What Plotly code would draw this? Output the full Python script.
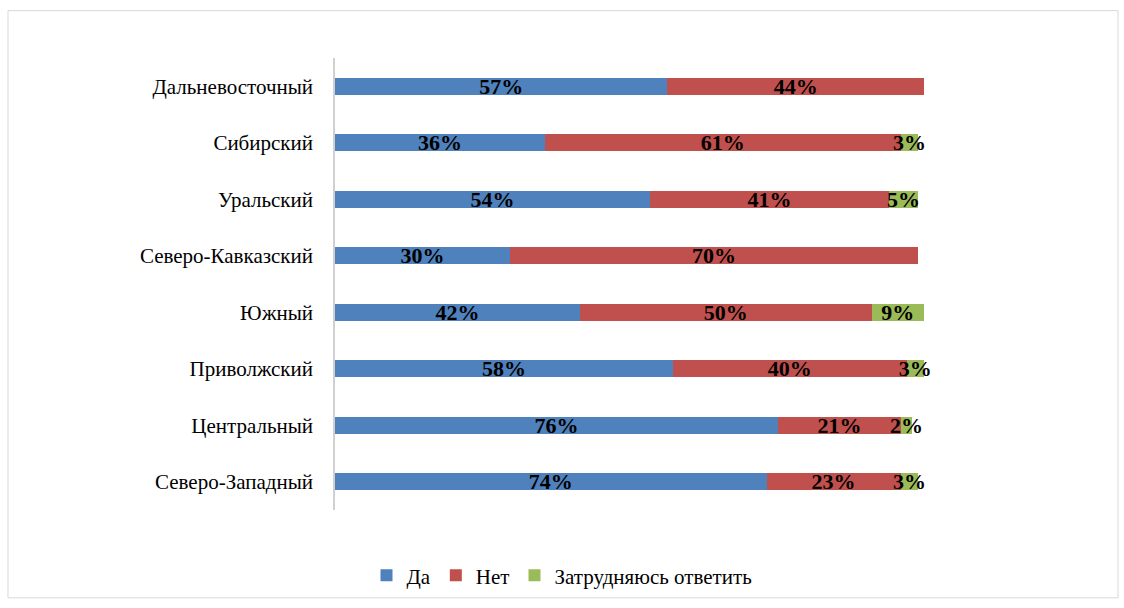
import plotly.graph_objects as go

categories = ["Дальневосточный", "Сибирский", "Уральский", "Северо-Кавказский",
              "Южный", "Приволжский", "Центральный", "Северо-Западный"]
da = [57, 36, 54, 30, 42, 58, 76, 74]
net = [44, 61, 41, 70, 50, 40, 21, 23]
zatr = [0, 3, 5, 0, 9, 3, 2, 3]

W, H = 1124, 608
ML, MR, MT, MB = 335, 200, 58, 92
PW, PH = W - ML - MR, H - MT - MB

series = [("Да", da, "#4F81BD"), ("Нет", net, "#C0504D"), ("Затрудняюсь ответить", zatr, "#9BBB59")]

fig = go.Figure()
for name, vals, col in series:
    fig.add_trace(go.Bar(
        y=categories, x=vals, name=name, orientation="h",
        marker=dict(color=col, line=dict(width=0)),
        text=[f"{v}%" if v > 0 else "" for v in vals],
        textposition="inside", insidetextanchor="middle", textangle=0,
        textfont=dict(family="Liberation Serif", size=22, color="black", weight="bold"),
        constraintext="none", cliponaxis=False,
    ))

fig.update_layout(
    width=W, height=H, barmode="stack", bargap=0.7,
    margin=dict(l=ML, r=MR, t=MT, b=MB),
    paper_bgcolor="white", plot_bgcolor="white",
    font=dict(family="Liberation Serif", size=20, color="black"),
    uniformtext=dict(mode="show", minsize=22),
    xaxis=dict(range=[0, 101], visible=False),
    yaxis=dict(autorange="reversed", showgrid=False, showline=True, linecolor="#D0D0D0",
               linewidth=2, ticks="", ticksuffix="   ", tickfont=dict(size=21)),
    legend=dict(orientation="h", x=0.5 - (ML - MR) / 2 / PW, xanchor="center", y=-0.1, yanchor="top",
                font=dict(size=21), itemwidth=30, traceorder="normal"),
    shapes=[dict(type="rect", xref="paper", yref="paper",
                 x0=-(ML - 8) / PW, x1=1 + (MR - 6) / PW,
                 y0=-(MB - 3) / PH, y1=1 + (MT - 10) / PH,
                 line=dict(color="#D9D9D9", width=1))],
)

fig.write_html("out.html")
